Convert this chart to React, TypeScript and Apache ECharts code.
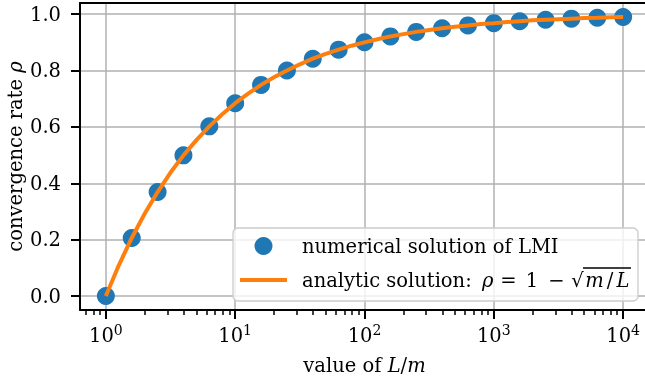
import React, { useEffect, useRef } from 'react';
import * as echarts from 'echarts';

const FONT = 'DejaVu Serif';
const FS = 19.5;

// Numerical solution (scatter)
const LM_POINTS = [1, 1.585, 2.512, 3.981, 6.31, 10, 15.85, 25.12, 39.81, 63.1, 100, 158.5, 251.2, 398.1, 631, 1000, 1585, 2512, 3981, 6310, 10000];
const RHO_POINTS = [0, 0.206, 0.369, 0.499, 0.602, 0.684, 0.749, 0.8, 0.842, 0.874, 0.9, 0.921, 0.937, 0.95, 0.96, 0.968, 0.975, 0.98, 0.984, 0.987, 0.99];

// Analytic curve (line)
const LM_CURVE = [1, 1.259, 1.585, 1.995, 2.512, 3.162, 3.981, 5.012, 6.31, 7.943, 10, 12.59, 15.85, 19.95, 25.12, 31.62, 39.81, 50.12, 63.1, 79.43, 100, 125.9, 158.5, 199.5, 251.2, 316.2, 398.1, 501.2, 631, 794.3, 1000, 1259, 1585, 1995, 2512, 3162, 3981, 5012, 6310, 7943, 10000];
const RHO_CURVE = [0, 0.109, 0.206, 0.292, 0.369, 0.438, 0.499, 0.553, 0.602, 0.645, 0.684, 0.718, 0.749, 0.776, 0.8, 0.822, 0.842, 0.859, 0.874, 0.888, 0.9, 0.911, 0.921, 0.929, 0.937, 0.944, 0.95, 0.955, 0.96, 0.965, 0.968, 0.972, 0.975, 0.978, 0.98, 0.982, 0.984, 0.986, 0.987, 0.989, 0.99];

const X_MAJOR_TICKS = [1, 10, 100, 1000, 10000];
const X_MINOR_TICKS = [0.7, 0.8, 0.9, 2, 3, 4, 5, 6, 7, 8, 9, 20, 30, 40, 50, 60, 70, 80, 90, 200, 300, 400, 500, 600, 700, 800, 900, 2000, 3000, 4000, 5000, 6000, 7000, 8000, 9000];
const Y_TICKS = [0, 0.2, 0.4, 0.6, 0.8, 1.0];

const SERIES_NUM = 'numerical solution of LMI';
const SERIES_ANA = 'analytic solution: ρ = 1 − √m/L';

const X_MIN = 0.631;
const X_MAX = 15849;
const Y_MIN = -0.0495;
const Y_MAX = 1.0395;

const GRID = { left: 80, top: 3, width: 569, height: 307 };

export default function App() {
  const ref = useRef<HTMLDivElement>(null);
  useEffect(() => {
    const chart = echarts.init(ref.current!, null, { renderer: 'svg' });
    const italic = { fontFamily: FONT, fontSize: FS, fontStyle: 'italic', color: '#000' };
    const plain = { fontFamily: FONT, fontSize: FS, color: '#000' };
    const lh = { lineHeight: 18 };
    chart.setOption({
      animation: false,
      grid: [
        { ...GRID, outerBoundsMode: 'none', containLabel: false },
        { ...GRID, outerBoundsMode: 'none', containLabel: false },
      ],
      xAxis: [
        {
          type: 'log', gridIndex: 0, position: 'bottom', min: X_MIN, max: X_MAX,
          name: 'value of {i|L}/{i|m}', nameLocation: 'middle', nameGap: 45,
          nameTextStyle: { ...plain, rich: { i: italic } },
          axisLine: { show: true, onZero: false, lineStyle: { color: '#000', width: 2 } },
          axisTick: { show: true, customValues: X_MAJOR_TICKS, length: 9, lineStyle: { color: '#000', width: 2 } },
          axisLabel: {
            customValues: X_MAJOR_TICKS, margin: 13,
            ...plain,
            formatter: (v: number) => `{b|10}{s|${Math.round(Math.log10(v))}}`,
            rich: {
              b: plain,
              s: { fontFamily: FONT, fontSize: 14, color: '#000', padding: [0, 0, 10, 0] },
            },
          },
          splitLine: { show: true, lineStyle: { color: '#b0b0b0', width: 1.5 } },
        },
        {
          type: 'log', gridIndex: 1, position: 'bottom', min: X_MIN, max: X_MAX,
          axisLine: { show: false, onZero: false },
          axisTick: { show: true, customValues: X_MINOR_TICKS, length: 5, lineStyle: { color: '#000', width: 1.5 } },
          axisLabel: { show: false },
          splitLine: { show: false },
        },
        {
          type: 'log', gridIndex: 1, position: 'top', min: X_MIN, max: X_MAX,
          axisLine: { show: true, onZero: false, lineStyle: { color: '#000', width: 2 } },
          axisTick: { show: false },
          axisLabel: { show: false },
          splitLine: { show: false },
        },
      ],
      yAxis: [
        {
          type: 'value', gridIndex: 0, min: Y_MIN, max: Y_MAX,
          name: 'convergence rate {i|ρ}', nameLocation: 'middle', nameGap: 55, nameMoveOverlap: false,
          nameTextStyle: { ...plain, lineHeight: 20, rich: { i: { ...italic, lineHeight: 20 } } },
          axisLine: { show: true, onZero: false, lineStyle: { color: '#000', width: 2 } },
          axisTick: { show: true, customValues: Y_TICKS, length: 9, lineStyle: { color: '#000', width: 2 } },
          axisLabel: {
            customValues: Y_TICKS, margin: 19,
            ...plain,
            formatter: (v: number) => v.toFixed(1),
          },
          splitLine: { show: true, lineStyle: { color: '#b0b0b0', width: 1.5 } },
        },
        {
          type: 'value', gridIndex: 1, min: Y_MIN, max: Y_MAX, position: 'right',
          axisLine: { show: true, onZero: false, lineStyle: { color: '#000', width: 2 } },
          axisTick: { show: false }, axisLabel: { show: false }, splitLine: { show: false },
        },
      ],
      legend: {
        orient: 'vertical', left: 233, top: 228,
        padding: [8, 7, 11, 7],
        itemWidth: 47, itemHeight: 18, itemGap: 14,
        backgroundColor: 'rgba(255,255,255,0.8)', borderColor: '#cccccc', borderWidth: 1.3, borderRadius: 5,
        textStyle: {
          ...plain, padding: [0, 0, 0, 10], ...lh,
          rich: {
            t: { ...plain, ...lh, width: 180, align: 'left' },
            r: { ...italic, ...lh, width: 13, align: 'left' },
            eq: { ...plain, ...lh, width: 27, align: 'center' },
            one: { ...plain, ...lh, width: 20, align: 'center' },
            mi: { ...plain, ...lh, width: 29, align: 'center' },
            q: { ...plain, ...lh, width: 13, align: 'left' },
            m: { ...italic, ...lh, width: 21, align: 'left' },
            sl: { ...plain, ...lh, width: 10, align: 'center' },
            L: { ...italic, ...lh, width: 16, align: 'left' },
          },
        },
        formatter: (name: string) => name === SERIES_ANA
          ? '{t|analytic solution:}{r|ρ}{eq|=}{one|1}{mi|−}{q|√}{m|m}{sl|/}{L|L}'
          : name,
        data: [
          { name: SERIES_NUM, icon: 'circle' },
          { name: SERIES_ANA, icon: 'path://M0,0L47,0L47,4L0,4Z', itemStyle: { color: '#ff7f0e' } },
        ],
      },
      graphic: [
        { type: 'line', z: 200, shape: { x1: 583, y1: 268, x2: 631, y2: 268 }, style: { stroke: '#000', lineWidth: 1.3 } },
      ],
      series: [
        {
          name: SERIES_NUM, type: 'scatter', xAxisIndex: 0, yAxisIndex: 0,
          data: LM_POINTS.map((x, i) => [x, RHO_POINTS[i]]),
          symbol: 'circle', symbolSize: 18,
          itemStyle: { color: '#1f77b4', opacity: 1 },
          z: 3,
        },
        {
          name: SERIES_ANA, type: 'line', xAxisIndex: 0, yAxisIndex: 0,
          data: LM_CURVE.map((x, i) => [x, RHO_CURVE[i]]),
          symbol: 'none', showSymbol: false,
          lineStyle: { color: '#ff7f0e', width: 4 },
          itemStyle: { color: '#ff7f0e' },
          z: 4,
        },
      ],
    });
    return () => chart.dispose();
  }, []);
  return <div ref={ref} style={{ position: 'fixed', left: 0, top: 0, width: 645, height: 381 }} />;
}
